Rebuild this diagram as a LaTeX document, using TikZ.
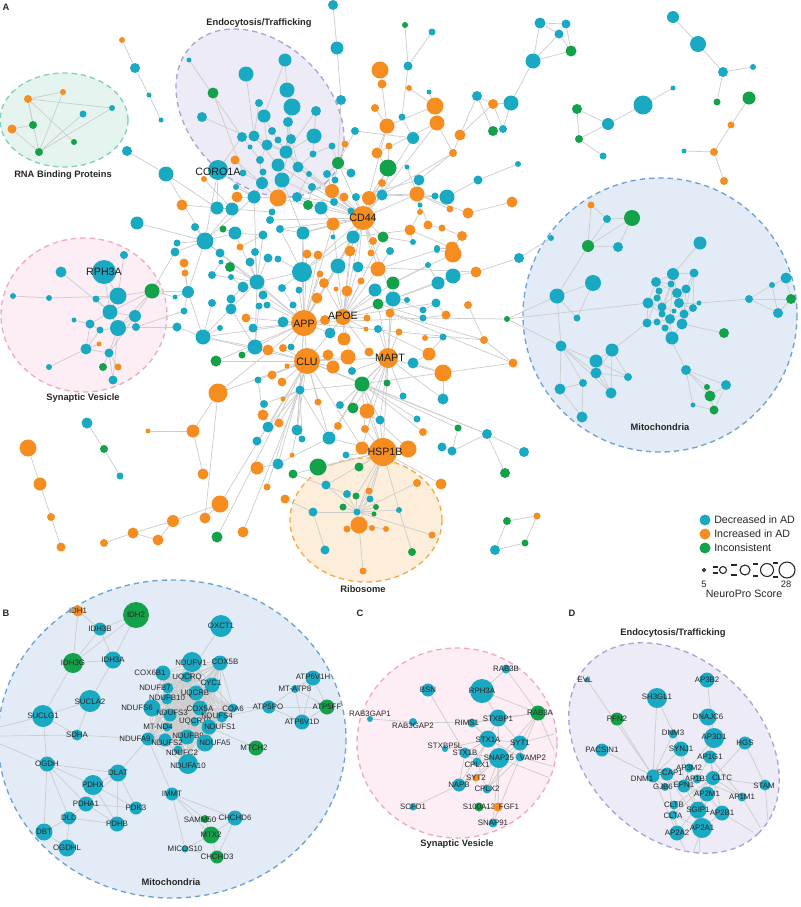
\documentclass[tikz,border=0pt]{standalone}
\usepackage{fontspec}
\setmainfont{Liberation Sans}
\definecolor{cT}{HTML}{1AA9C2}
\definecolor{cO}{HTML}{F68D21}
\definecolor{cG}{HTML}{13A24A}
\definecolor{cE}{HTML}{CDCDCD}
\definecolor{fRNA}{HTML}{E6F4EF}\definecolor{bRNA}{HTML}{7FD0B8}
\definecolor{fEND}{HTML}{EDECF6}\definecolor{bEND}{HTML}{A8A3D8}
\definecolor{fSYN}{HTML}{FCEEF4}\definecolor{bSYN}{HTML}{F2A8C3}
\definecolor{fMIT}{HTML}{E3ECF6}\definecolor{bMIT}{HTML}{6DA2D6}
\definecolor{fRIB}{HTML}{FDEEDB}\definecolor{bRIB}{HTML}{F6A944}
\pgfdeclarelayer{clusters}
\pgfdeclarelayer{edges}
\pgfsetlayers{clusters,edges,main}
\tikzset{
 nd/.style={circle,inner sep=0pt,outer sep=0pt,draw=none},
 edge/.style={draw=cE,line width=0.55pt},
 gA/.style={font=\fontsize{8}{8}\selectfont,text=black!90,inner sep=0pt},
 gS/.style={font=\fontsize{5.9}{6}\selectfont,text=black!85,inner sep=0pt},
 ttl/.style={font=\bfseries\fontsize{7}{7}\selectfont,text=black!85,inner sep=0pt},
 clus/.style={line width=1pt,dash pattern=on 4pt off 3pt},
 lgt/.style={font=\fontsize{8}{8}\selectfont,text=black!85,inner sep=0pt,anchor=west},
 szc/.style={circle,draw=black!85,line width=0.8pt,inner sep=0pt,fill=white},
}
\begin{document}
\begin{tikzpicture}[x=0.75pt,y=-0.75pt]
\useasboundingbox (0,0) rectangle (800,907);

% ---------------- Panel A nodes ----------------
\foreach \n/\x/\y/\s/\c in {
1/333/5/10/cT,2/337/48/13/cT,3/341/100/10/cT,4/122/40/6/cO,5/135/68/10/cT,6/149/95/5/cT,7/161/120/5/cT,8/127/151/10/cT,9/166/174/15/cT,
10/63/92/6/cO,11/28/99/8/cO,12/112/108/6/cT,13/83/114/7/cT,14/33/125/8/cG,15/12/129/9/cO,16/74/142/6/cG,17/39/152/8/cG,
18/189/60/5/cT,19/213/93/11/cG,20/246/74/15/cT,21/285/60/13/cT,22/287/90/15/cT,23/292/107/17/cT,24/202/117/10/cT,25/259/103/8/cT,26/264/116/13/cT,27/288/122/10/cT,28/316/111/10/cT,29/242/137/10/cT,30/254/136/11/cT,31/272/131/8/cT,32/291/139/10/cT,33/314/136/15/cT,34/267/145/11/cT,35/250/147/5/cT,36/278/140/7/cT,37/286/152/13/cT,38/332/146/7/cT,39/313/154/7/cT,40/260/160/8/cT,41/278/165/13/cT,42/298/167/11/cT,43/263/172/7/cT,44/243/173/7/cT,45/218/170/20/cT,46/282/180/15/cT,47/262/183/12/cT,48/309/174/6/cT,49/236/187/6/cT,50/312/187/8/cT,51/235/160/9/cO,52/204/179/6/cO,53/237/197/11/cO,54/254/197/13/cT,55/278/198/17/cO,56/297/197/10/cT,57/308/205/10/cG,58/321/208/13/cT,59/217/208/13/cT,60/232/209/13/cT,61/182/205/11/cO,62/272/212/7/cT,63/270/220/8/cT,
64/355/131/8/cT,65/345/144/7/cO,66/338/163/12/cG,67/327/174/8/cT,68/351/173/9/cT,69/335/180/7/cT,70/375/108/8/cO,71/380/70/17/cO,72/382/84/9/cO,73/387/126/15/cO,74/389/146/7/cO,75/377/153/11/cO,76/388/168/17/cG,77/382/183/8/cO,78/332/191/14/cO,79/344/197/9/cO,80/356/197/8/cT,81/369/198/14/cO,82/382/195/11/cT,83/334/202/8/cT,84/363/218/24/cO,85/333/224/13/cO,86/351/211/7/cT,87/353/237/13/cT,88/373/241/8/cO,89/383/237/11/cG,90/333/237/5/cT,91/303/233/13/cT,92/280/229/8/cT,93/263/235/9/cT,94/223/229/7/cG,95/235/233/13/cT,96/205/241/17/cT,97/195/227/8/cT,98/137/223/13/cT,99/177/243/7/cT,100/240/247/7/cO,
101/405/25/6/cG,102/432/32/7/cT,103/408/66/9/cT,104/409/88/6/cO,105/429/92/5/cT,106/435/106/17/cO,107/437/123/15/cO,108/402/117/7/cT,109/413/138/12/cT,110/460/135/11/cO,111/453/153/8/cO,112/477/96/10/cT,113/493/104/10/cO,114/511/103/15/cT,115/493/131/10/cG,116/503/129/8/cT,117/533/61/15/cT,118/540/23/11/cT,119/566/24/9/cT,120/559/34/9/cT,121/571/51/11/cG,122/407/167/5/cT,123/419/180/11/cT,124/417/194/15/cO,125/435/196/7/cT,126/447/197/15/cT,127/478/180/9/cT,128/518/164/6/cT,129/450/209/7/cO,130/468/213/11/cO,131/512/202/11/cO,132/428/225/9/cO,133/442/228/7/cO,134/462/236/10/cO,135/413/242/6/cT,136/420/205/5/cT,137/420/212/6/cO,138/410/230/11/cO,139/452/248/13/cO,140/437/248/6/cT,
141/577/109/10/cG,142/608/124/12/cT,143/579/139/8/cG,144/603/156/7/cT,145/643/105/19/cT,146/673/88/5/cT,147/673/17/12/cT,148/698/44/16/cT,149/723/72/10/cT,150/753/67/6/cT,151/717/102/7/cG,152/749/98/13/cG,153/731/125/7/cO,154/714/152/8/cO,155/684/151/5/cT,156/724/181/8/cO,
157/591/205/7/cO,158/607/219/8/cT,159/632/218/16/cG,160/588/246/12/cG,161/618/247/10/cT,162/700/243/13/cT,163/551/238/6/cT,164/557/296/15/cT,165/593/283/16/cT,166/577/318/7/cT,167/507/319/6/cG,168/519/258/10/cT,
169/673/274/12/cT,170/694/273/9/cT,171/656/282/10/cT,172/671/284/7/cT,173/686/289/9/cT,174/659/291/7/cT,175/677/293/10/cT,176/657/298/7/cT,177/648/303/11/cT,178/679/303/10/cT,179/662/307/9/cT,180/693/308/8/cT,181/699/303/5/cT,182/674/311/5/cT,183/684/314/9/cT,184/662/314/7/cT,185/670/319/10/cT,186/647/323/9/cT,187/657/322/7/cT,188/682/324/11/cT,189/665/328/7/cT,190/672/338/13/cT,
191/724/333/10/cG,192/749/299/8/cT,193/772/285/6/cT,194/786/278/11/cT,195/791/299/10/cG,196/778/313/10/cT,197/561/346/11/cT,198/612/350/13/cT,199/596/361/13/cT,200/596/373/11/cT,201/628/377/8/cT,202/583/383/8/cT,203/560/389/11/cT,204/611/393/11/cT,205/582/417/11/cT,206/686/370/10/cT,207/707/387/6/cG,208/726/385/10/cT,209/710/396/11/cG,210/693/405/5/cT,211/714/410/9/cG,
212/476/272/11/cO,213/453/276/15/cT,214/453/254/17/cO,215/438/283/13/cT,216/437/250/6/cT,217/428/265/6/cT,218/468/305/8/cO,219/436/303/9/cT,220/446/315/9/cO,221/423/310/7/cT,222/423/318/7/cT,223/407/300/6/cT,224/425/338/6/cO,225/443/337/7/cT,226/429/354/13/cO,227/413/363/11/cT,228/443/373/17/cO,229/484/340/8/cO,230/513/363/9/cO,231/403/396/7/cT,232/443/399/11/cT,233/417/419/7/cT,234/423/432/8/cO,235/458/428/7/cG,236/442/447/9/cT,237/452/451/9/cT,238/487/434/10/cT,239/524/452/10/cT,240/505/473/10/cG,241/408/449/17/cO,
242/61/272/11/cT,243/104/272/24/cT,244/124/255/8/cT,245/152/291/15/cG,246/118/296/17/cT,247/13/296/6/cT,248/49/298/6/cT,249/96/299/7/cT,250/110/312/15/cT,251/135/316/12/cT,252/74/320/5/cT,253/90/324/9/cT,254/118/328/16/cT,255/100/330/7/cT,256/136/327/8/cT,257/99/344/5/cO,258/86/349/11/cT,259/109/353/9/cT,260/49/367/6/cT,261/103/367/8/cG,262/118/367/7/cO,263/113/380/9/cT,
264/175/252/9/cT,265/184/263/9/cO,266/185/273/7/cO,267/220/253/9/cT,268/255/252/8/cT,269/230/267/10/cG,270/221/262/5/cT,271/268/258/9/cT,272/278/259/7/cT,273/250/262/9/cT,274/212/275/8/cT,275/231/277/6/cT,276/257/282/15/cT,277/243/287/11/cT,278/302/272/20/cT,279/188/292/12/cT,280/175/297/5/cT,281/263/295/9/cT,282/299/290/7/cT,283/282/288/8/cT,284/231/299/9/cT,285/212/303/8/cT,286/231/309/11/cT,287/259/306/7/cT,288/267/305/7/cT,289/184/311/7/cT,290/293/305/7/cT,
291/318/255/9/cO,292/307/254/9/cO,293/350/251/11/cO,294/338/266/15/cT,295/320/274/7/cO,296/324/283/10/cO,297/347/291/11/cO,298/317/298/11/cO,299/336/289/5/cO,300/358/267/11/cT,301/361/281/7/cO,302/378/269/15/cO,303/393/283/13/cG,304/375/290/13/cT,305/393/299/15/cT,306/378/304/11/cG,307/390/251/8/cT,308/371/253/7/cO,309/390/313/9/cO,310/399/332/7/cO,
311/283/322/11/cT,312/304/323/26/cO,313/343/317/16/cO,314/325/320/10/cO,315/367/318/7/cO,316/366/329/5/cO,317/378/329/8/cT,318/344/339/13/cO,319/330/333/11/cT,320/328/355/11/cO,321/348/357/15/cO,322/333/367/13/cO,323/307/361/26/cO,324/283/348/8/cO,325/268/350/11/cO,326/291/347/7/cT,327/255/347/15/cT,328/253/328/9/cT,329/203/337/15/cT,330/220/328/6/cT,331/177/327/9/cT,332/246/318/9/cO,333/242/355/7/cG,334/216/361/11/cG,335/287/366/5/cO,336/272/375/9/cO,337/282/382/9/cO,338/258/380/7/cT,339/300/390/9/cT,340/283/399/5/cO,341/264/404/8/cT,342/318/402/7/cO,343/340/405/8/cT,344/352/371/8/cT,345/369/352/9/cO,346/388/358/20/cO,347/362/384/15/cG,348/387/383/7/cG,349/367/411/15/cO,350/353/408/11/cG,351/380/420/9/cT,352/365/429/8/cO,353/338/426/8/cO,354/329/438/13/cT,355/297/430/11/cT,356/302/439/7/cT,357/279/423/9/cO,358/268/427/11/cT,359/263/415/11/cO,360/257/441/9/cT,361/292/455/5/cO,362/257/468/13/cO,363/278/464/11/cT,364/293/474/9/cG,365/346/455/7/cT,366/362/448/13/cO,367/383/452/28/cO,368/318/467/17/cG,369/359/467/9/cG,370/218/393/19/cO,371/193/431/13/cO,372/148/431/5/cO,373/203/474/11/cO,374/87/423/11/cT,375/104/449/8/cG,376/120/476/7/cT,377/28/448/17/cO,378/40/484/13/cO,
379/51/517/8/cO,380/61/547/9/cO,381/104/543/8/cO,382/133/533/11/cO,383/158/540/11/cO,384/173/521/12/cO,385/205/518/11/cO,386/220/504/17/cO,387/217/537/11/cG,388/243/532/11/cO,389/267/487/7/cO,
390/285/499/9/cO,391/326/485/9/cT,392/347/494/8/cT,393/356/496/7/cG,394/369/491/7/cO,395/370/499/7/cT,396/343/507/7/cG,397/357/512/7/cT,398/376/507/6/cG,399/374/514/5/cG,400/313/512/9/cT,401/399/510/6/cT,402/359/525/17/cO,403/347/529/7/cO,404/372/528/6/cO,405/386/529/6/cO,406/432/535/7/cO,407/325/550/9/cT,408/412/552/8/cG,409/363/571/7/cO,410/417/483/8/cO,411/441/484/11/cO,412/507/521/8/cG,413/537/516/7/cO,414/525/543/7/cG,415/495/550/10/cT}
 \node[nd,fill=\c,minimum size=\s*0.75pt] (a\n) at (\x,\y) {};

% Panel A gene labels
\node[gA] (tA1) at (218,172) {CORO1A};
\node[gA] (tA2) at (363,218) {CD44};
\node[gA] (tA3) at (304,324) {APP};
\node[gA] (tA4) at (343,316) {APOE};
\node[gA] (tA5) at (307,362) {CLU};
\node[gA] (tA6) at (390,358) {MAPT};
\node[gA] (tA7) at (385,452) {HSP1B};
\node[gA] (tA8) at (104,272) {RPH3A};

% ---------------- Panel B nodes ----------------
\foreach \n/\x/\y/\s/\c/\lx/\ly in {
IDH1/78/611/11/cO/78/611,IDH2/136/615/26/cG/136/615,IDH3B/100/629/13/cT/100/629,OXCT1/221/626/22/cT/221/626,IDH3G/73/663/20/cG/73/663,IDH3A/113/660/17/cT/113/660,
NDUFV1/192/662/20/cT/191/663,COX5B/220/663/15/cT/225/662,COX6B1/163/673/15/cT/150/673,UQCRQ/187/677/11/cT/187/677,CYC1/212/685/15/cT/211/683,NDUFB7/168/688/11/cT/155/688,UQCRB/196/693/15/cT/195/693,NDUFB10/167/699/11/cT/167/698,
SUCLA2/90/701/22/cT/90/702,NDUFS6/152/708/17/cT/137/708,COX5A/200/708/15/cT/200/709,COA6/233/708/9/cT/233/709,ATP5PO/269/707/13/cT/268/707,SUCLG1/43/716/22/cT/43/716,
NDUFS3/170/715/13/cT/172/713,NDUFS4/222/717/11/cT/217/716,MT-ND4/167/727/9/cT/158/727,UQCR10/195/722/9/cT/195/721,NDUFS1/209/727/15/cT/220/727,SDHA/77/735/11/cT/77/735,
NDUFA9/148/739/13/cT/135/739,NDUFB9/187/737/15/cT/188/736,NDUFS2/165/740/13/cT/167/743,NDUFA5/205/743/17/cT/215/743,MTCH2/256/748/15/cG/254/748,NDUFC2/178/750/9/cT/182/753,
OGDH/47/764/15/cT/47/764,DLAT/118/773/17/cT/118/773,NDUFA10/188/764/20/cT/188/766,PDHX/93/785/20/cT/93/785,IMMT/172/794/13/cT/172/794,PDHA1/86/804/15/cT/86/804,
PDK3/136/808/13/cT/136/808,DLD/69/818/13/cT/69/818,CHCHD6/235/818/15/cT/235/818,PDHB/117/824/15/cT/117/824,SAMM50/205/819/8/cG/200/820,DBT/44/832/17/cT/44/832,
MTX2/211/835/17/cG/211/835,OGDHL/67/848/17/cT/67/848,MICOS10/185/849/7/cT/185/849,CHCHD3/217/857/13/cG/217/857,
ATP6V1H/313/678/15/cT/313/677,MT-ATP8/295/689/8/cT/295/689,ATP5FF/327/707/15/cG/327/707,ATP6V1D/302/722/15/cT/302/722}
 {\node[nd,fill=\c,minimum size=\s*0.75pt] (b\n) at (\x,\y) {};
  \node[gS] (bl\n) at (\lx,\ly) {\n};}

% ---------------- Panel C nodes ----------------
\foreach \n/\x/\y/\s/\c/\lx/\ly in {
RAB3B/506/669/9/cT/506/669,BSN/428/690/13/cT/428/690,RPH3A/482/691/24/cT/482/691,RAB3A/538/713/15/cG/540/713,
RAB3GAP1/370/719/6/cT/370/714,RAB3GAP2/413/722/8/cT/413/726,RIMS1/472/723/9/cT/467/723,STXBP1/498/718/17/cT/498/719,
STX1A/488/739/17/cT/488/740,SYT1/520/743/15/cT/520/743,STXBP5L/445/749/6/cT/445/746,STX1B/465/753/11/cT/465/753,
SNAP25/499/758/20/cT/499/758,VAMP2/520/757/9/cT/533/758,CPLX1/477/762/9/cT/477/765,SYT2/476/778/7/cO/476/778,
NAPB/459/785/13/cT/459/785,CPLX2/487/789/9/cT/487/789,SCFD1/413/807/7/cT/413/807,S100A13/479/807/9/cG/479/807,
FGF1/498/807/9/cO/509/807,SNAP91/493/823/9/cT/493/823}
 {\node[nd,fill=\c,minimum size=\s*0.75pt] (c\n) at (\x,\y) {};
  \node[gS] (cl\n) at (\lx,\ly) {\n};}

% ---------------- Panel D nodes ----------------
\foreach \n/\x/\y/\s/\c/\lx/\ly in {
EVL/587/680/5/cT/585/680,AP3B2/707/680/15/cT/707/680,SH3GL1/657/698/20/cT/657/697,PFN2/617/719/13/cG/617/719,
DNAJC6/708/717/17/cT/708/717,DNM3/673/734/9/cT/673/733,AP3D1/714/738/20/cT/714/737,HGS/745/743/13/cT/745/743,
PACSIN1/602/750/13/cT/602/750,SYNJ1/681/749/15/cT/681/749,AP1G1/710/757/13/cT/710/757,AP3M2/689/768/9/cT/689/768,
NECAP1/667/774/13/cT/667/773,DNM1/653/776/13/cT/642/779,AP1B1/697/779/9/cT/697/779,CLTC/713/778/14/cT/722/778,
EPN1/684/786/13/cT/684/785,GJB6/665/787/8/cT/663/787,STAM/765/785/11/cT/764/786,AP2M1/707/794/15/cT/707/794,
AP1M1/742/797/9/cT/742/797,CLTB/674/805/9/cT/674/805,SGIP1/698/810/17/cT/698/810,AP2B1/722/813/15/cT/722/813,
CLTA/673/815/9/cT/673/816,AP2A1/702/828/20/cT/702/828,AP2A2/677/833/15/cT/677/833}
 {\node[nd,fill=\c,minimum size=\s*0.75pt] (d\n) at (\x,\y) {};
  \node[gS] (dl\n) at (\lx,\ly) {\n};}

% free ends of connectors leaving the panels
\coordinate (bL1) at (0,727);
\coordinate (bL2) at (0,736);
\coordinate (bL3) at (0,744);
\coordinate (ce1) at (554,734);
\coordinate (ce2) at (554,750);
\coordinate (ce3) at (552,766);
\coordinate (ce4) at (550,778);
\coordinate (de1) at (686,852);
\coordinate (de2) at (693,853);
\coordinate (de3) at (700,853);
\coordinate (de4) at (753,832);
\coordinate (de5) at (760,827);
\coordinate (de6) at (768,821);

% ---------------- titles ----------------
\node[ttl] (pA) at (6,7) {A};
\node[ttl] (pB) at (6,613) {B};
\node[ttl] (pC) at (360,613) {C};
\node[ttl] (pD) at (572,613) {D};
\node[ttl] (t1) at (259,23) {Endocytosis/Trafficking};
\node[ttl] (t2) at (63,175) {RNA Binding Proteins};
\node[ttl] (t3) at (83,398) {Synaptic Vesicle};
\node[ttl] (t4) at (660,427) {Mitochondria};
\node[ttl] (t5) at (363,589) {Ribosome};
\node[ttl] (t6) at (171,882) {Mitochondria};
\node[ttl] (t7) at (457,844) {Synaptic Vesicle};
\node[ttl] (t8) at (673,633) {Endocytosis/Trafficking};

% ---------------- legend ----------------
\node[nd,fill=cT,minimum size=11*0.75pt] (lg1) at (705,520) {};
\node[nd,fill=cO,minimum size=11*0.75pt] (lg2) at (705,534) {};
\node[nd,fill=cG,minimum size=11*0.75pt] (lg3) at (705,548) {};
\node[lgt] (lg1t) at (714,520) {Decreased in AD};
\node[lgt] (lg2t) at (714,534) {Increased in AD};
\node[lgt] (lg3t) at (714,548) {Inconsistent};
\draw[black!85,line width=0.8pt] (713,567)--(718,567) (713,573)--(718,573)
  (731,565)--(737,565) (731,575)--(737,575) (753,564)--(758,564) (753,576)--(758,576)
  (773,563)--(778,563) (773,577)--(778,577);
\node[szc,minimum size=3*0.75pt] (sz1) at (704,570) {};
\node[szc,minimum size=7*0.75pt] (sz2) at (723,570) {};
\node[szc,minimum size=10*0.75pt] (sz3) at (745,570) {};
\node[szc,minimum size=13*0.75pt] (sz4) at (767,570) {};
\node[szc,minimum size=16*0.75pt] (sz5) at (787,570) {};
\node[font=\fontsize{7}{7}\selectfont,text=black!85,inner sep=0pt] (lg5) at (704,584) {5};
\node[font=\fontsize{7}{7}\selectfont,text=black!85,inner sep=0pt] (lg28) at (786,584) {28};
\node[font=\fontsize{8}{8}\selectfont,text=black!85,inner sep=0pt] (lgns) at (744,594) {NeuroPro Score};

% ---------------- cluster shapes ----------------
\begin{pgfonlayer}{clusters}
\draw[clus,draw=bRNA,fill=fRNA] (64,120) ellipse [x radius=64, y radius=47];
\draw[clus,draw=bEND,fill=fEND,rotate around={-45:(260,113)}] (260,113) ellipse [x radius=96, y radius=70];
\draw[clus,draw=bSYN,fill=fSYN] (84,315) ellipse [x radius=83, y radius=77];
\draw[clus,draw=bMIT,fill=fMIT] (660,315) circle [radius=137];
\draw[clus,draw=bRIB,fill=fRIB] (366,520) ellipse [x radius=76, y radius=62];
\draw[clus,draw=bMIT,fill=fMIT] (172,739) ellipse [x radius=174, y radius=159];
\draw[clus,draw=bSYN,fill=fSYN] (457,743) ellipse [x radius=100, y radius=95];
\draw[clus,draw=bEND,fill=fEND,rotate around={-45:(674,748)}] (674,748) ellipse [x radius=120, y radius=88];
\end{pgfonlayer}

% ---------------- connectors ----------------
\begin{pgfonlayer}{edges}
\foreach \a/\b in {
1/2,2/3,3/66,4/5,5/6,6/7,8/9,9/59,9/96,
11/10,11/12,11/17,10/17,15/14,15/17,17/13,17/12,11/16,14/11,
18/29,19/44,20/30,21/22,22/23,23/27,21/26,24/34,25/30,26/34,26/31,27/37,28/33,28/37,29/35,30/37,31/37,32/37,33/37,33/39,34/37,34/40,35/40,36/37,37/41,37/42,38/39,38/66,39/42,40/47,41/46,41/55,42/55,43/47,44/47,45/54,45/59,46/55,47/54,48/56,49/54,50/57,51/55,52/60,53/55,54/55,55/56,55/62,56/57,57/58,58/85,59/60,60/62,61/60,62/63,63/84,41/84,37/84,55/84,46/91,42/78,50/78,56/83,29/45,30/41,32/46,27/42,23/37,
64/66,65/66,66/67,66/68,66/69,66/78,70/73,71/72,72/73,73/75,74/76,75/76,76/81,77/81,78/79,79/84,80/84,81/84,82/84,83/84,85/84,86/84,87/84,88/84,89/84,90/85,91/85,92/91,93/95,94/95,95/96,97/96,98/96,99/96,100/93,69/83,67/78,84/312,84/313,84/294,84/300,84/293,84/302,84/305,
101/103,102/103,103/108,104/106,105/106,106/107,107/111,108/109,109/64,110/111,110/112,110/113,112/113,112/115,113/114,113/116,114/116,114/117,115/116,117/118,117/120,117/121,118/119,118/120,119/121,120/121,111/123,111/82,106/73,107/75,
122/124,123/124,124/126,125/126,126/127,127/128,124/129,124/130,130/131,124/132,132/133,133/134,134/139,124/137,136/137,137/138,138/139,139/140,135/138,124/82,126/82,138/87,135/89,123/80,
141/142,141/143,142/143,143/144,142/145,145/146,147/148,148/149,149/150,149/151,152/153,153/154,154/155,154/156,
157/160,157/158,158/159,158/160,159/160,159/161,160/161,160/164,163/168,168/212,164/165,164/166,164/167,165/166,164/197,167/177,167/222,167/197,162/169,
169/170,169/171,169/175,170/173,171/174,171/172,172/175,173/175,173/178,174/176,175/178,176/177,177/179,178/180,178/181,179/182,179/184,180/183,181/192,182/185,183/188,184/185,185/187,185/190,186/187,186/177,187/189,188/190,189/190,171/177,172/179,175/179,176/184,183/185,170/180,178/183,186/198,189/206,188/191,169/178,174/179,177/184,180/188,171/175,176/186,172/184,173/183,169/185,171/190,170/188,
192/193,192/195,192/196,193/194,194/195,195/196,193/196,
197/199,197/200,197/202,197/203,197/204,198/199,198/200,198/204,198/201,199/201,200/201,202/205,203/202,200/204,203/205,199/204,
206/207,206/208,206/209,206/210,207/209,208/209,209/211,210/211,208/211,207/211,
212/213,213/215,214/216,215/217,213/305,215/305,214/303,216/302,217/303,218/229,219/220,219/221,220/222,221/305,222/306,223/305,224/225,225/226,226/227,227/228,228/346,226/317,229/230,229/309,230/309,231/346,232/346,233/347,234/347,235/237,236/237,237/238,238/347,239/238,240/238,235/347,241/367,241/349,232/228,212/300,
247/248,248/246,242/250,243/246,243/250,244/246,245/246,245/250,245/251,245/254,246/249,246/250,249/250,250/251,250/253,250/254,251/254,252/253,253/255,254/256,254/255,254/259,253/258,255/258,257/258,258/259,258/260,259/261,259/262,259/263,254/263,251/256,251/259,245/280,245/279,256/289,256/331,
264/96,265/279,266/279,267/96,268/276,269/276,270/274,271/276,272/278,273/276,274/276,275/277,276/278,277/284,276/281,278/312,278/283,281/312,282/312,283/290,284/286,285/329,286/327,287/327,288/312,289/279,290/312,279/329,280/279,291/312,292/312,293/313,294/312,295/312,296/313,297/313,298/312,299/313,300/313,301/313,302/313,303/305,304/313,305/346,306/313,307/302,308/84,309/346,310/346,311/312,314/312,315/313,316/313,317/346,318/313,319/312,320/323,321/323,322/323,324/323,325/323,326/312,327/312,328/312,329/312,330/329,331/329,332/312,333/327,334/323,335/323,336/323,337/323,338/323,339/323,340/339,341/339,342/323,343/346,344/346,345/346,347/346,347/323,348/346,349/346,350/346,351/347,352/347,353/347,354/347,355/339,356/339,357/339,358/339,359/338,360/358,361/355,362/363,363/354,364/367,365/367,366/367,368/367,369/367,370/323,370/312,371/370,372/371,373/371,374/375,375/376,377/378,312/323,312/313,313/323,323/346,346/367,278/84,96/312,96/276,327/276,312/222,312/229,313/219,323/238,347/230,96/45,276/54,
312/91,312/85,312/87,312/276,312/339,312/355,312/334,313/305,313/303,313/85,313/87,313/89,313/345,313/344,323/355,323/358,323/363,323/354,323/329,323/366,346/306,346/309,346/351,346/366,84/91,84/78,84/66,84/76,84/73,84/107,84/109,84/124,367/354,367/347,367/349,367/351,367/352,96/60,96/54,276/95,276/93,276/329,327/329,339/347,339/354,84/42,84/46,84/56,84/92,278/91,278/92,278/87,245/264,279/96,
378/379,379/380,381/382,382/383,382/384,384/386,385/386,386/323,387/323,388/339,389/323,383/384,385/370,
390/400,391/397,392/397,393/397,394/397,395/397,396/397,398/397,399/397,400/397,401/397,402/397,403/402,404/402,405/402,406/397,407/400,408/401,409/402,410/397,411/367,401/367,391/367,402/367,392/364,412/413,412/415,413/414,414/415,367/397,393/367,395/367}
 \draw[edge] (a\a) -- (a\b);

% Panel B
\foreach \a/\b in {IDH1/IDH3B,IDH1/IDH3G,IDH2/IDH3B,IDH2/IDH3G,IDH2/IDH3A,IDH3B/IDH3G,IDH3B/IDH3A,IDH3G/IDH3A,IDH3G/SUCLG1,IDH3A/SUCLA2,OXCT1/UQCRQ,SUCLA2/SUCLG1,SUCLA2/SDHA,SUCLG1/SDHA,SUCLG1/OGDH,SDHA/NDUFA9,OGDH/DLAT,OGDH/PDHX,OGDH/PDHA1,OGDH/DLD,OGDH/DBT,DLAT/PDHX,DLAT/PDK3,DLAT/PDHB,DLAT/PDHA1,DLAT/NDUFA9,PDHX/PDHA1,PDHX/PDK3,PDHX/PDHB,PDHA1/PDHB,PDHA1/PDK3,PDHA1/DLD,DLD/PDHB,DLD/DBT,DLD/OGDHL,DBT/OGDHL,IMMT/NDUFA9,IMMT/SAMM50,IMMT/MTX2,IMMT/CHCHD6,IMMT/MICOS10,SAMM50/MTX2,SAMM50/CHCHD6,MTX2/CHCHD6,MTX2/CHCHD3,MTX2/MICOS10,CHCHD6/CHCHD3,MICOS10/CHCHD3,NDUFS1/MTCH2,COA6/ATP5PO,NDUFS4/ATP5PO,ATP5PO/MT-ATP8,ATP5PO/ATP5FF,ATP5PO/ATP6V1D,ATP5FF/MT-ATP8,ATP5FF/ATP6V1H,ATP6V1H/MT-ATP8,ATP6V1D/ATP5FF,ATP6V1D/MT-ATP8,ATP6V1H/ATP6V1D}
 \draw[edge] (b\a) -- (b\b);
\draw[edge] (bL1) -- (bSUCLG1);
\draw[edge] (bL2) -- (bSDHA);
\draw[edge] (bL3) -- (bOGDH);
\def\resp{NDUFV1,COX5B,COX6B1,UQCRQ,CYC1,NDUFB7,UQCRB,NDUFB10,NDUFS6,COX5A,NDUFS3,NDUFS4,MT-ND4,UQCR10,NDUFS1,NDUFA9,NDUFB9,NDUFS2,NDUFA5,NDUFC2,NDUFA10,COA6}
\foreach \u [count=\i] in \resp {
  \foreach \v [count=\j] in \resp {
    \ifnum\j>\i \draw[edge] (b\u) -- (b\v);\fi
  }
}

% Panel C
\foreach \a/\b in {RAB3GAP1/RAB3GAP2,RAB3GAP2/RIMS1,RIMS1/STXBP1,RIMS1/STX1A,RPH3A/RAB3B,RPH3A/STXBP1,RPH3A/RAB3A,RAB3B/RAB3A,BSN/STX1B,STXBP1/STX1A,STXBP1/SYT1,STXBP1/RAB3A,STXBP1/SNAP25,STX1A/SNAP25,STX1A/SYT1,STX1A/STX1B,STX1A/STXBP5L,STX1A/CPLX1,STX1A/VAMP2,STX1A/NAPB,SYT1/SNAP25,SYT1/VAMP2,SNAP25/VAMP2,SNAP25/CPLX1,SNAP25/STX1B,SNAP25/CPLX2,SNAP25/SYT2,SNAP25/SNAP91,SNAP25/NAPB,STX1B/NAPB,CPLX1/CPLX2,NAPB/SCFD1,NAPB/SYT2,FGF1/S100A13,FGF1/SNAP25,RAB3A/SYT1,RAB3A/SNAP25,RAB3A/VAMP2,STX1B/CPLX1,RIMS1/RAB3A,SYT1/CPLX2,VAMP2/CPLX2,SNAP91/VAMP2}
 \draw[edge] (c\a) -- (c\b);
\draw[edge] (cSYT1) -- (ce1);
\draw[edge] (cRAB3A) -- (ce2);
\draw[edge] (cVAMP2) -- (ce3);
\draw[edge] (cSNAP25) -- (ce4);

% Panel D
\foreach \a/\b in {EVL/DNM1,AP3B2/AP3D1,SH3GL1/SYNJ1,SH3GL1/DNM1,PFN2/DNM1,PACSIN1/DNM1,DNM3/DNM1,HGS/STAM,HGS/CLTC,DNAJC6/CLTC,DNAJC6/AP3D1,AP3D1/AP3M2,AP1G1/CLTC,AP1G1/AP1B1,CLTC/AP1B1,CLTC/AP2M1,CLTC/STAM,CLTC/AP1M1,CLTC/EPN1,CLTC/AP2B1,CLTC/SGIP1,AP2M1/AP2B1,AP2M1/AP2A1,AP2M1/AP2A2,AP2M1/EPN1,AP2M1/SGIP1,AP2B1/AP2A1,AP2B1/SGIP1,AP2A1/AP2A2,AP2A1/SGIP1,SGIP1/EPN1,CLTB/CLTA,CLTB/CLTC,CLTA/CLTC,EPN1/NECAP1,NECAP1/DNM1,NECAP1/AP3M2,NECAP1/AP2A1,GJB6/DNM1,DNM1/SYNJ1,DNM1/EPN1,DNM1/AP2A2,SYNJ1/EPN1,SYNJ1/AP2A1,AP1M1/AP1G1,AP1M1/AP1B1,NECAP1/AP2A2,CLTA/AP2A1,CLTB/AP2A2}
 \draw[edge] (d\a) -- (d\b);
\draw[edge] (dAP2A2) -- (de1);
\draw[edge] (dAP2A1) -- (de2);
\draw[edge] (dSGIP1) -- (de3);
\draw[edge] (dAP2B1) -- (de4);
\draw[edge] (dAP1M1) -- (de5);
\draw[edge] (dSTAM) -- (de6);
\end{pgfonlayer}
\end{tikzpicture}
\end{document}
